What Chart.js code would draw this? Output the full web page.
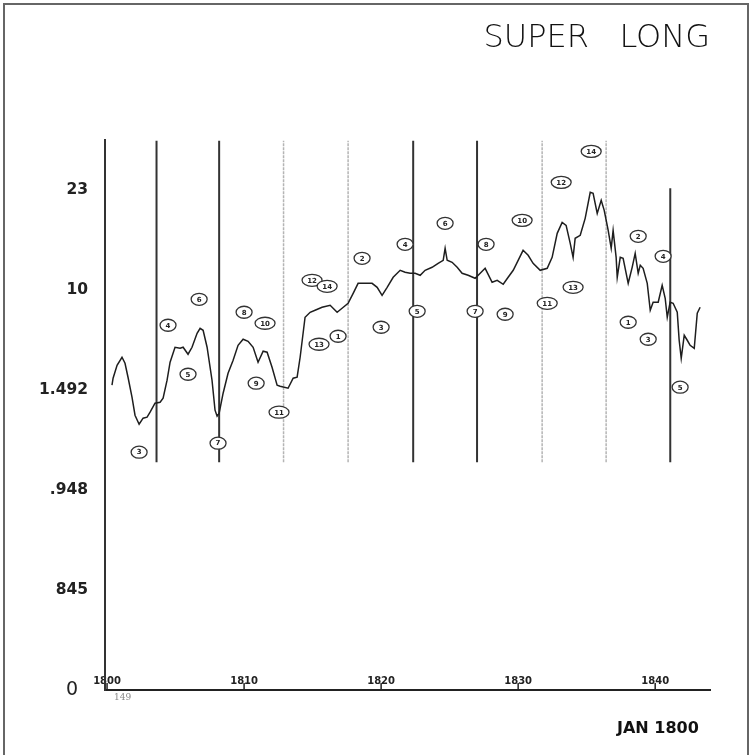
<!DOCTYPE html>
<html><head><meta charset="utf-8">
<script src="https://cdn.jsdelivr.net/npm/chart.js@4.4.1/dist/chart.umd.min.js"></script>
<style>
html,body{margin:0;padding:0;background:#fff;overflow:hidden;}
#frame{position:absolute;left:3px;top:3px;width:742px;height:800px;border:2px solid #666;}
#c{position:absolute;left:0;top:0;}
</style></head><body>
<div id="frame"></div>
<canvas id="c" width="751" height="755"></canvas>
<script>
// ---- data ----
const years = [1800.36,1800.44,1800.73,1801.09,1801.31,1801.53,1801.82,1802.04,1802.34,1802.63,1802.92,1803.14,1803.50,1803.87,1804.09,1804.38,1804.60,1804.96,1805.33,1805.55,1805.91,1806.20,1806.57,1806.79,1807.01,1807.30,1807.66,1807.88,1808.03,1808.18,1808.47,1808.83,1809.20,1809.56,1809.93,1810.29,1810.66,1811.02,1811.39,1811.68,1812.04,1812.41,1812.63,1813.21,1813.58,1813.87,1814.09,1814.45,1814.82,1815.18,1815.69,1816.28,1816.79,1817.15,1817.59,1817.96,1818.32,1818.69,1819.34,1819.71,1820.07,1820.44,1820.88,1821.39,1821.75,1822.12,1822.48,1822.85,1823.21,1823.72,1824.16,1824.53,1824.67,1824.82,1825.18,1825.55,1825.91,1826.35,1826.86,1827.23,1827.59,1828.10,1828.47,1828.91,1829.27,1829.64,1830.00,1830.36,1830.73,1831.09,1831.61,1832.12,1832.48,1832.85,1833.21,1833.50,1833.80,1834.01,1834.16,1834.53,1834.89,1835.26,1835.47,1835.77,1836.06,1836.28,1836.57,1836.79,1836.93,1837.15,1837.23,1837.45,1837.66,1838.03,1838.32,1838.54,1838.76,1838.91,1839.12,1839.42,1839.64,1839.85,1840.22,1840.51,1840.73,1840.88,1841.09,1841.31,1841.61,1841.75,1841.90,1842.12,1842.34,1842.55,1842.85,1843.07,1843.28];
const values = [3.05,3.12,3.25,3.33,3.27,3.13,2.93,2.75,2.66,2.72,2.73,2.78,2.87,2.88,2.92,3.10,3.28,3.43,3.42,3.43,3.36,3.43,3.57,3.62,3.60,3.43,3.10,2.80,2.74,2.77,2.97,3.17,3.30,3.45,3.51,3.49,3.43,3.28,3.39,3.38,3.23,3.05,3.04,3.02,3.12,3.13,3.33,3.73,3.78,3.80,3.83,3.85,3.78,3.82,3.87,3.97,4.07,4.07,4.07,4.03,3.95,4.03,4.13,4.20,4.18,4.17,4.17,4.15,4.20,4.23,4.27,4.30,4.42,4.30,4.28,4.23,4.17,4.15,4.12,4.17,4.22,4.08,4.10,4.06,4.13,4.20,4.30,4.40,4.35,4.27,4.20,4.22,4.33,4.57,4.68,4.65,4.47,4.33,4.52,4.55,4.72,4.98,4.97,4.77,4.90,4.80,4.60,4.42,4.60,4.33,4.13,4.33,4.32,4.07,4.23,4.37,4.17,4.25,4.22,4.07,3.80,3.88,3.88,4.05,3.92,3.73,3.88,3.87,3.78,3.50,3.32,3.55,3.50,3.45,3.42,3.77,3.83];
const yTickLabels = ['0','845','.948','1.492','10','23'];
const xTickYears = [1800,1810,1820,1830,1840];
const dividerYears = [1803.61,1808.18,1812.88,1817.59,1822.34,1827.00,1831.75,1836.42,1841.10];
const dividerTops = [5.5,5.5,5.5,5.5,5.5,5.5,5.5,5.5,5.02];
const dividerBottom = 2.28;
const dividerDark = [true,true,false,false,true,true,false,false,true];
const noteLabels = ['3','4','5','6','7','8','10','9','11','12','14','13','1','2','3','4','5','6','7','8','9','10','11','12','13','14','2','1','3','4','5'];
const noteYears = [1802.34,1804.45,1805.91,1806.72,1808.10,1810.00,1811.53,1810.88,1812.55,1814.96,1816.06,1815.47,1816.86,1818.61,1820.00,1821.75,1822.63,1824.67,1826.86,1827.66,1829.05,1830.29,1832.12,1833.14,1834.01,1835.33,1838.76,1838.03,1839.49,1840.58,1841.82];
const noteValues = [2.38,3.65,3.16,3.91,2.47,3.78,3.67,3.07,2.78,4.10,4.04,3.46,3.54,4.32,3.63,4.46,3.79,4.67,3.79,4.46,3.76,4.70,3.87,5.08,4.03,5.39,4.54,3.68,3.51,4.34,3.03];
const titleText = 'SUPER   LONG';
const xTitleText = 'JAN 1800';
const cornerNote = '149';

// ---- datasets built from the arrays ----
const datasets = [{
  data: years.map((x, i) => ({x: x, y: values[i]})),
  borderColor: '#1e1e1e', borderWidth: 1.5, pointRadius: 0, tension: 0, fill: false
}];
dividerYears.forEach((yr, i) => {
  datasets.push({
    data: [{x: yr, y: dividerBottom}, {x: yr, y: dividerTops[i]}],
    borderColor: dividerDark[i] ? '#333' : '#b4b4b4',
    borderWidth: dividerDark[i] ? 2 : 1.5,
    borderDash: dividerDark[i] ? [] : [3, 1],
    pointRadius: 0, fill: false
  });
});

const extras = {
  id: 'extras',
  afterDatasetsDraw(chart) {
    const {ctx, scales: {x, y}, chartArea} = chart;
    ctx.save();
    // upward tick marks on the x axis
    ctx.strokeStyle = '#222'; ctx.lineWidth = 1.5;
    xTickYears.forEach(v => {
      const px = x.getPixelForValue(v);
      ctx.beginPath(); ctx.moveTo(px, chartArea.bottom); ctx.lineTo(px, chartArea.bottom - 7); ctx.stroke();
    });
    // circled notes
    ctx.font = 'bold 7px "DejaVu Sans"';
    ctx.textAlign = 'center'; ctx.textBaseline = 'middle';
    noteLabels.forEach((t, i) => {
      const px = x.getPixelForValue(noteYears[i]);
      const py = y.getPixelForValue(noteValues[i]);
      const rx = t.length > 1 ? 10 : 8;
      ctx.beginPath(); ctx.ellipse(px, py, rx, 6, 0, 0, Math.PI * 2);
      ctx.fillStyle = '#fff'; ctx.fill();
      ctx.strokeStyle = '#333'; ctx.lineWidth = 1.3; ctx.stroke();
      ctx.fillStyle = '#222'; ctx.fillText(t, px, py + 0.5);
    });
    // small note below origin
    ctx.font = '9px "DejaVu Serif"'; ctx.fillStyle = '#888'; ctx.textAlign = 'left';
    ctx.fillText(cornerNote, x.getPixelForValue(xTickYears[0]) + 7, chartArea.bottom + 8);
    ctx.restore();
  }
};

new Chart(document.getElementById('c'), {
  type: 'line',
  data: {datasets},
  options: {
    responsive: false, animation: false,
    layout: {padding: {left: 4, right: 41, top: 0, bottom: 0}},
    plugins: {
      legend: {display: false}, tooltip: {enabled: false},
      title: {display: true, text: titleText, align: 'end', color: '#111',
        font: {family: 'DejaVu Sans', size: 32, weight: '200'}, padding: {top: 19, bottom: 83}}
    },
    scales: {
      x: {
        type: 'linear', min: 1799.85, max: 1844.0,
        afterFit: s => { s.height = 65; },
        afterBuildTicks: s => { s.ticks = xTickYears.map(v => ({value: v})); },
        grid: {display: false, drawTicks: false},
        border: {display: true, color: '#222', width: 2},
        ticks: {mirror: true, padding: 3, color: '#222', maxRotation: 0, autoSkip: false,
          font: {family: 'DejaVu Sans', size: 10, weight: 'bold'}, callback: v => String(v)},
        title: {display: true, text: xTitleText + '  ', align: 'end', color: '#111',
          font: {family: 'DejaVu Sans', size: 16, weight: 'bold'}, padding: {top: 0, bottom: 17}}
      },
      y: {
        type: 'linear', min: 0, max: 5.5,
        afterFit: s => { s.width = 101; },
        afterBuildTicks: s => { s.ticks = yTickLabels.map((t, i) => ({value: i})); },
        grid: {display: false, drawTicks: false},
        border: {display: true, color: '#333', width: 2},
        ticks: {padding: 17, color: '#222',
          font: c => (c.tick && c.tick.value === 0) ? {family: 'DejaVu Sans', size: 19, weight: 'normal'} : {family: 'DejaVu Sans', size: 15.5, weight: 'bold'},
          callback: (v, i) => yTickLabels[v] + (v === 0 ? ' \u2009' : '')}
      }
    }
  },
  plugins: [extras]
});
</script>
</body></html>
